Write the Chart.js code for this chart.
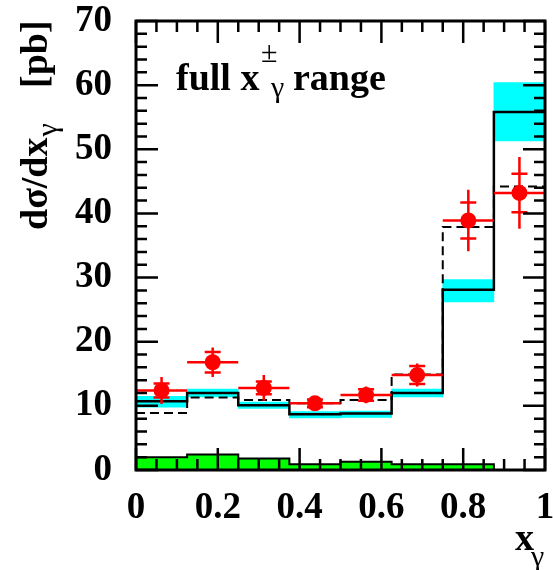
<!DOCTYPE html>
<html>
<head>
<meta charset="utf-8">
<script src="https://cdn.jsdelivr.net/npm/chart.js@4/dist/chart.umd.min.js"></script>
<style>
  body { margin: 0; background: #fff; }
</style>
</head>
<body>
<canvas id="xgChart" width="553" height="570"></canvas>
<script>
// bins in x_gamma
const binEdges = [0, 0.125, 0.25, 0.375, 0.5, 0.625, 0.75, 0.875, 1];
const binCenters = [0.0625, 0.1875, 0.3125, 0.4375, 0.5625, 0.6875, 0.8125, 0.9375];

// measured points (pb) with inner (stat) and outer (total) errors
const dataVals = [12.4, 16.8, 12.8, 10.4, 11.7, 14.8, 38.9, 43.2];
const statErr  = [1.1, 1.6, 1.0, 0.6, 0.9, 1.4, 2.8, 3.0];
const totErr   = [2.1, 2.3, 2.0, 0.9, 1.3, 1.8, 4.8, 5.6];

// calculation: central value and band
const nloVals = [10.7, 12.0, 10.1, 8.7, 8.8, 12.0, 28.1, 55.8];
const nloLow  = [9.8, 11.4, 9.6, 8.1, 8.2, 11.4, 26.2, 51.3];
const nloHigh = [11.5, 12.6, 10.6, 9.1, 9.2, 12.6, 29.7, 60.4];

// dashed histogram
const dashVals = [8.9, 11.3, 10.9, 10.4, 10.9, 14.9, 37.9, 44.2];

// green histogram at the bottom
const greenVals = [2.0, 2.4, 1.8, 0.9, 1.3, 0.9, 0.9, 0];

const xTicks = [0, 0.2, 0.4, 0.6, 0.8, 1];
const yTicks = [0, 10, 20, 30, 40, 50, 60, 70];

const SERIF = '"Liberation Serif", "Times New Roman", serif';

// histogram as stepped line points on the bin edges
const steps = vals => binEdges.map((e, i) => ({ x: e, y: vals[Math.min(i, vals.length - 1)] }));

const errorBars = {
  id: 'errorBars',
  afterDatasetsDraw(chart) {
    const { ctx, scales: { x, y } } = chart;
    ctx.save();
    ctx.strokeStyle = '#ff0000';
    ctx.lineWidth = 2.5;
    binCenters.forEach((c, i) => {
      const px = x.getPixelForValue(c);
      const py = y.getPixelForValue(dataVals[i]);
      ctx.beginPath();
      ctx.moveTo(x.getPixelForValue(binEdges[i]), py);
      ctx.lineTo(x.getPixelForValue(binEdges[i + 1]), py);
      ctx.moveTo(px, y.getPixelForValue(dataVals[i] - totErr[i]));
      ctx.lineTo(px, y.getPixelForValue(dataVals[i] + totErr[i]));
      [dataVals[i] - statErr[i], dataVals[i] + statErr[i]].forEach(v => {
        const yy = y.getPixelForValue(v);
        ctx.moveTo(px - 8, yy);
        ctx.lineTo(px + 8, yy);
      });
      ctx.stroke();
    });
    ctx.restore();
  }
};

const frameAndText = {
  id: 'frameAndText',
  afterDraw(chart) {
    const { ctx, chartArea: a, scales: { x, y } } = chart;
    ctx.save();
    ctx.strokeStyle = '#000';
    ctx.lineWidth = 2.5;
    ctx.beginPath();
    // inward ticks on all four sides
    for (let i = 0; i <= 20; i++) {
      const px = x.getPixelForValue(i * 0.05);
      const len = i % 4 === 0 ? 22 : 11;
      ctx.moveTo(px, a.bottom); ctx.lineTo(px, a.bottom - len);
      ctx.moveTo(px, a.top); ctx.lineTo(px, a.top + len);
    }
    for (let i = 0; i <= 35; i++) {
      const py = y.getPixelForValue(i * 2);
      const len = i % 5 === 0 ? 22 : 11;
      ctx.moveTo(a.left, py); ctx.lineTo(a.left + len, py);
      ctx.moveTo(a.right, py); ctx.lineTo(a.right - len, py);
    }
    ctx.stroke();
    ctx.lineWidth = 3;
    ctx.strokeRect(a.left, a.top, a.right - a.left, a.bottom - a.top);

    ctx.fillStyle = '#000';
    ctx.textBaseline = 'alphabetic';
    ctx.textAlign = 'left';

    // label inside the frame
    ctx.font = 'bold 38px ' + SERIF;
    ctx.fillText('full x', 176, 90);
    ctx.font = '30px ' + SERIF;
    ctx.fillText('\u00b1', 261, 62);
    ctx.fillText('\u03b3', 271, 97);
    ctx.font = 'bold 38px ' + SERIF;
    ctx.fillText('range', 293, 90);

    // x axis title
    ctx.fillText('x', 515, 550);
    ctx.font = '30px ' + SERIF;
    ctx.fillText('\u03b3', 531, 566);

    // y axis title
    ctx.translate(47, 230);
    ctx.rotate(-Math.PI / 2);
    ctx.font = 'bold 38px ' + SERIF;
    ctx.fillText('d\u03c3/dx', 0, 0);
    const w = ctx.measureText('d\u03c3/dx').width;
    ctx.font = '30px ' + SERIF;
    ctx.fillText('\u03b3', w + 1, 10);
    ctx.font = 'bold 38px ' + SERIF;
    ctx.fillText('[pb]', 142, 0);
    ctx.restore();
  }
};

const noPad = s => { s.paddingLeft = 0; s.paddingRight = 0; s.paddingTop = 0; s.paddingBottom = 0; };

new Chart('xgChart', {
  type: 'line',
  data: {
    datasets: [
      {
        data: steps(greenVals),
        stepped: true,
        fill: 'origin',
        backgroundColor: '#00ff00',
        borderColor: '#000',
        borderWidth: 2,
        pointRadius: 0,
        order: 6
      },
      {
        type: 'bar',
        data: binCenters.map((c, i) => ({ x: c, y: [nloLow[i], nloHigh[i]] })),
        backgroundColor: '#00ffff',
        borderWidth: 0,
        barPercentage: 1,
        categoryPercentage: 1,
        order: 5
      },
      {
        data: steps(dashVals),
        stepped: true,
        borderColor: '#000',
        borderWidth: 2,
        borderDash: [9, 5],
        pointRadius: 0,
        fill: false,
        order: 4
      },
      {
        data: steps(nloVals),
        stepped: true,
        borderColor: '#000',
        borderWidth: 2.5,
        pointRadius: 0,
        fill: false,
        order: 3
      },
      {
        data: binCenters.map((c, i) => ({ x: c, y: dataVals[i] })),
        showLine: false,
        pointRadius: 8,
        pointBackgroundColor: '#ff0000',
        pointBorderWidth: 0,
        order: 1
      }
    ]
  },
  options: {
    responsive: false,
    animation: false,
    layout: { padding: { top: 21, right: 7, left: 0, bottom: 0 } },
    plugins: { legend: { display: false }, tooltip: { enabled: false } },
    scales: {
      x: {
        type: 'linear',
        min: 0,
        max: 1,
        offset: false,
        grid: { display: false },
        border: { display: false },
        afterBuildTicks: s => { s.ticks = xTicks.map(v => ({ value: v })); },
        ticks: {
          callback: v => String(v),
          maxRotation: 0,
          autoSkip: false,
          padding: 12,
          color: '#000',
          font: { family: SERIF, size: 37, weight: 'bold', lineHeight: 1 }
        },
        afterFit: s => { s.height = 100; noPad(s); }
      },
      y: {
        min: 0,
        max: 70,
        grid: { display: false },
        border: { display: false },
        afterBuildTicks: s => { s.ticks = yTicks.map(v => ({ value: v })); },
        ticks: {
          padding: 16,
          color: '#000',
          font: { family: SERIF, size: 37, weight: 'bold', lineHeight: 1 }
        },
        afterFit: s => { s.width = 136; noPad(s); }
      }
    }
  },
  plugins: [errorBars, frameAndText]
});
</script>
</body>
</html>
